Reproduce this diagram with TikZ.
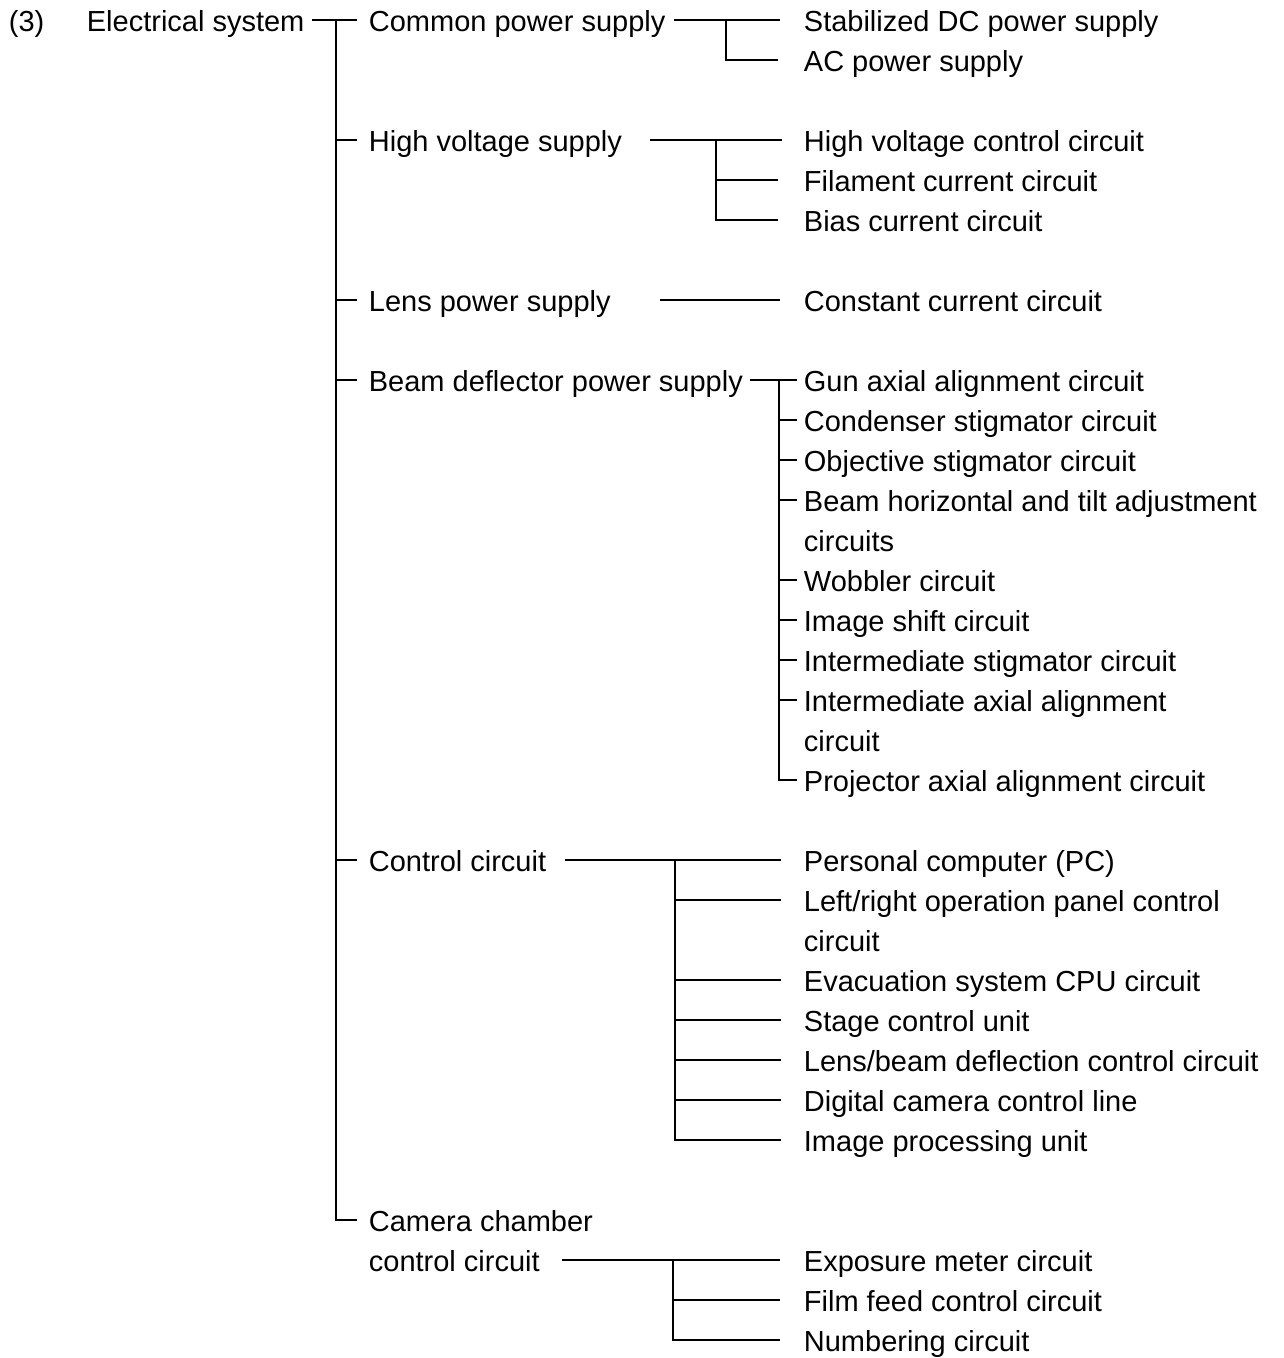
\documentclass[tikz,border=0pt]{standalone}
\usepackage{fontspec}
\setmainfont{Liberation Sans}
\tikzset{
  lbl/.style={anchor=west, inner sep=0pt, text height=22pt, text depth=0pt,
    font=\fontsize{29}{40}\selectfont},
}
\begin{document}
\begin{tikzpicture}[x=1pt, y=-1pt, line width=1.8pt]
        \useasboundingbox (0,0) rectangle (1284,1358);
        % first and second level
        \node[lbl] (num) at (8,20) {(3)};
        \node[lbl] (es) at (86,20) {Electrical system};
        \node[lbl] (cps) at (368,20) {Common power supply};
        \node[lbl] (hvs) at (368,140) {High voltage supply};
        \node[lbl] (lps) at (368,300) {Lens power supply};
        \node[lbl] (bdps) at (368,380) {Beam deflector power supply};
        \node[lbl] (cc) at (368,860) {Control circuit};
        \node[lbl] (ccc) at (368,1220) {Camera chamber};
        \node[lbl] (ccc2) at (368,1260) {control circuit};
        % third level
        \node[lbl] (dc) at (803,20) {Stabilized DC power supply};
        \node[lbl] (ac) at (803,60) {AC power supply};
        \node[lbl] (hvc) at (803,140) {High voltage control circuit};
        \node[lbl] (fcc) at (803,180) {Filament current circuit};
        \node[lbl] (bcc) at (803,220) {Bias current circuit};
        \node[lbl] (ccur) at (803,300) {Constant current circuit};
        \node[lbl] (gun) at (803,380) {Gun axial alignment circuit};
        \node[lbl] (cst) at (803,420) {Condenser stigmator circuit};
        \node[lbl] (ost) at (803,460) {Objective stigmator circuit};
        \node[lbl] (bht) at (803,500) {Beam horizontal and tilt adjustment};
        \node[lbl] (bht2) at (803,540) {circuits};
        \node[lbl] (wob) at (803,580) {Wobbler circuit};
        \node[lbl] (ish) at (803,620) {Image shift circuit};
        \node[lbl] (ist) at (803,660) {Intermediate stigmator circuit};
        \node[lbl] (iaa) at (803,700) {Intermediate axial alignment};
        \node[lbl] (iaa2) at (803,740) {circuit};
        \node[lbl] (paa) at (803,780) {Projector axial alignment circuit};
        \node[lbl] (pc) at (803,860) {Personal computer (PC)};
        \node[lbl] (lr) at (803,900) {Left/right operation panel control};
        \node[lbl] (lr2) at (803,940) {circuit};
        \node[lbl] (evac) at (803,980) {Evacuation system CPU circuit};
        \node[lbl] (stage) at (803,1020) {Stage control unit};
        \node[lbl] (lens) at (803,1060) {Lens/beam deflection control circuit};
        \node[lbl] (dcam) at (803,1100) {Digital camera control line};
        \node[lbl] (ipu) at (803,1140) {Image processing unit};
        \node[lbl] (expo) at (803,1260) {Exposure meter circuit};
        \node[lbl] (film) at (803,1300) {Film feed control circuit};
        \node[lbl] (numb) at (803,1340) {Numbering circuit};
        % trunk
        \coordinate (trunk) at (336,20);
        \draw ([xshift=7pt]es.east) -- ([xshift=-11pt]cps.west);
        \draw (trunk) |- ([xshift=-11pt]ccc.west);
        \foreach \n in {hvs,lps,bdps,cc}
            \draw (trunk |- \n.west) -- ([xshift=-11pt]\n.west);
        % common power supply
        \coordinate (cpsj) at (726,20);
        \draw ([xshift=8pt]cps.east) -- ([xshift=-23pt]dc.west);
        \draw (cpsj) |- ([xshift=-25pt]ac.west);
        % high voltage supply
        \coordinate (hvsa) at (650,140);
        \coordinate (hvsj) at (716,140);
        \draw (hvsa) -- ([xshift=-21pt]hvc.west);
        \draw (hvsj) |- ([xshift=-25pt]bcc.west);
        \draw (hvsj |- fcc.west) -- ([xshift=-25pt]fcc.west);
        % lens power supply
        \coordinate (lpsa) at (660,300);
        \draw (lpsa) -- ([xshift=-23pt]ccur.west);
        % beam deflector power supply
        \coordinate (bdj) at (779,380);
        \draw ([xshift=6pt]bdps.east) -- ([xshift=-6pt]gun.west);
        \draw (bdj) |- ([xshift=-6pt]paa.west);
        \foreach \n in {cst,ost,bht,wob,ish,ist,iaa}
            \draw (bdj |- \n.west) -- ([xshift=-6pt]\n.west);
        % control circuit
        \coordinate (cca) at (565,860);
        \coordinate (ccj) at (675,860);
        \draw (cca) -- ([xshift=-22pt]pc.west);
        \draw (ccj) |- ([xshift=-22pt]ipu.west);
        \foreach \n in {lr,evac,stage,lens,dcam}
            \draw (ccj |- \n.west) -- ([xshift=-22pt]\n.west);
        % camera chamber control circuit
        \coordinate (ccca) at (562,1260);
        \coordinate (cccj) at (673,1260);
        \draw (ccca) -- ([xshift=-23pt]expo.west);
        \draw (cccj) |- ([xshift=-23pt]numb.west);
        \draw (cccj |- film.west) -- ([xshift=-23pt]film.west);
    \end{tikzpicture}
\end{document}
